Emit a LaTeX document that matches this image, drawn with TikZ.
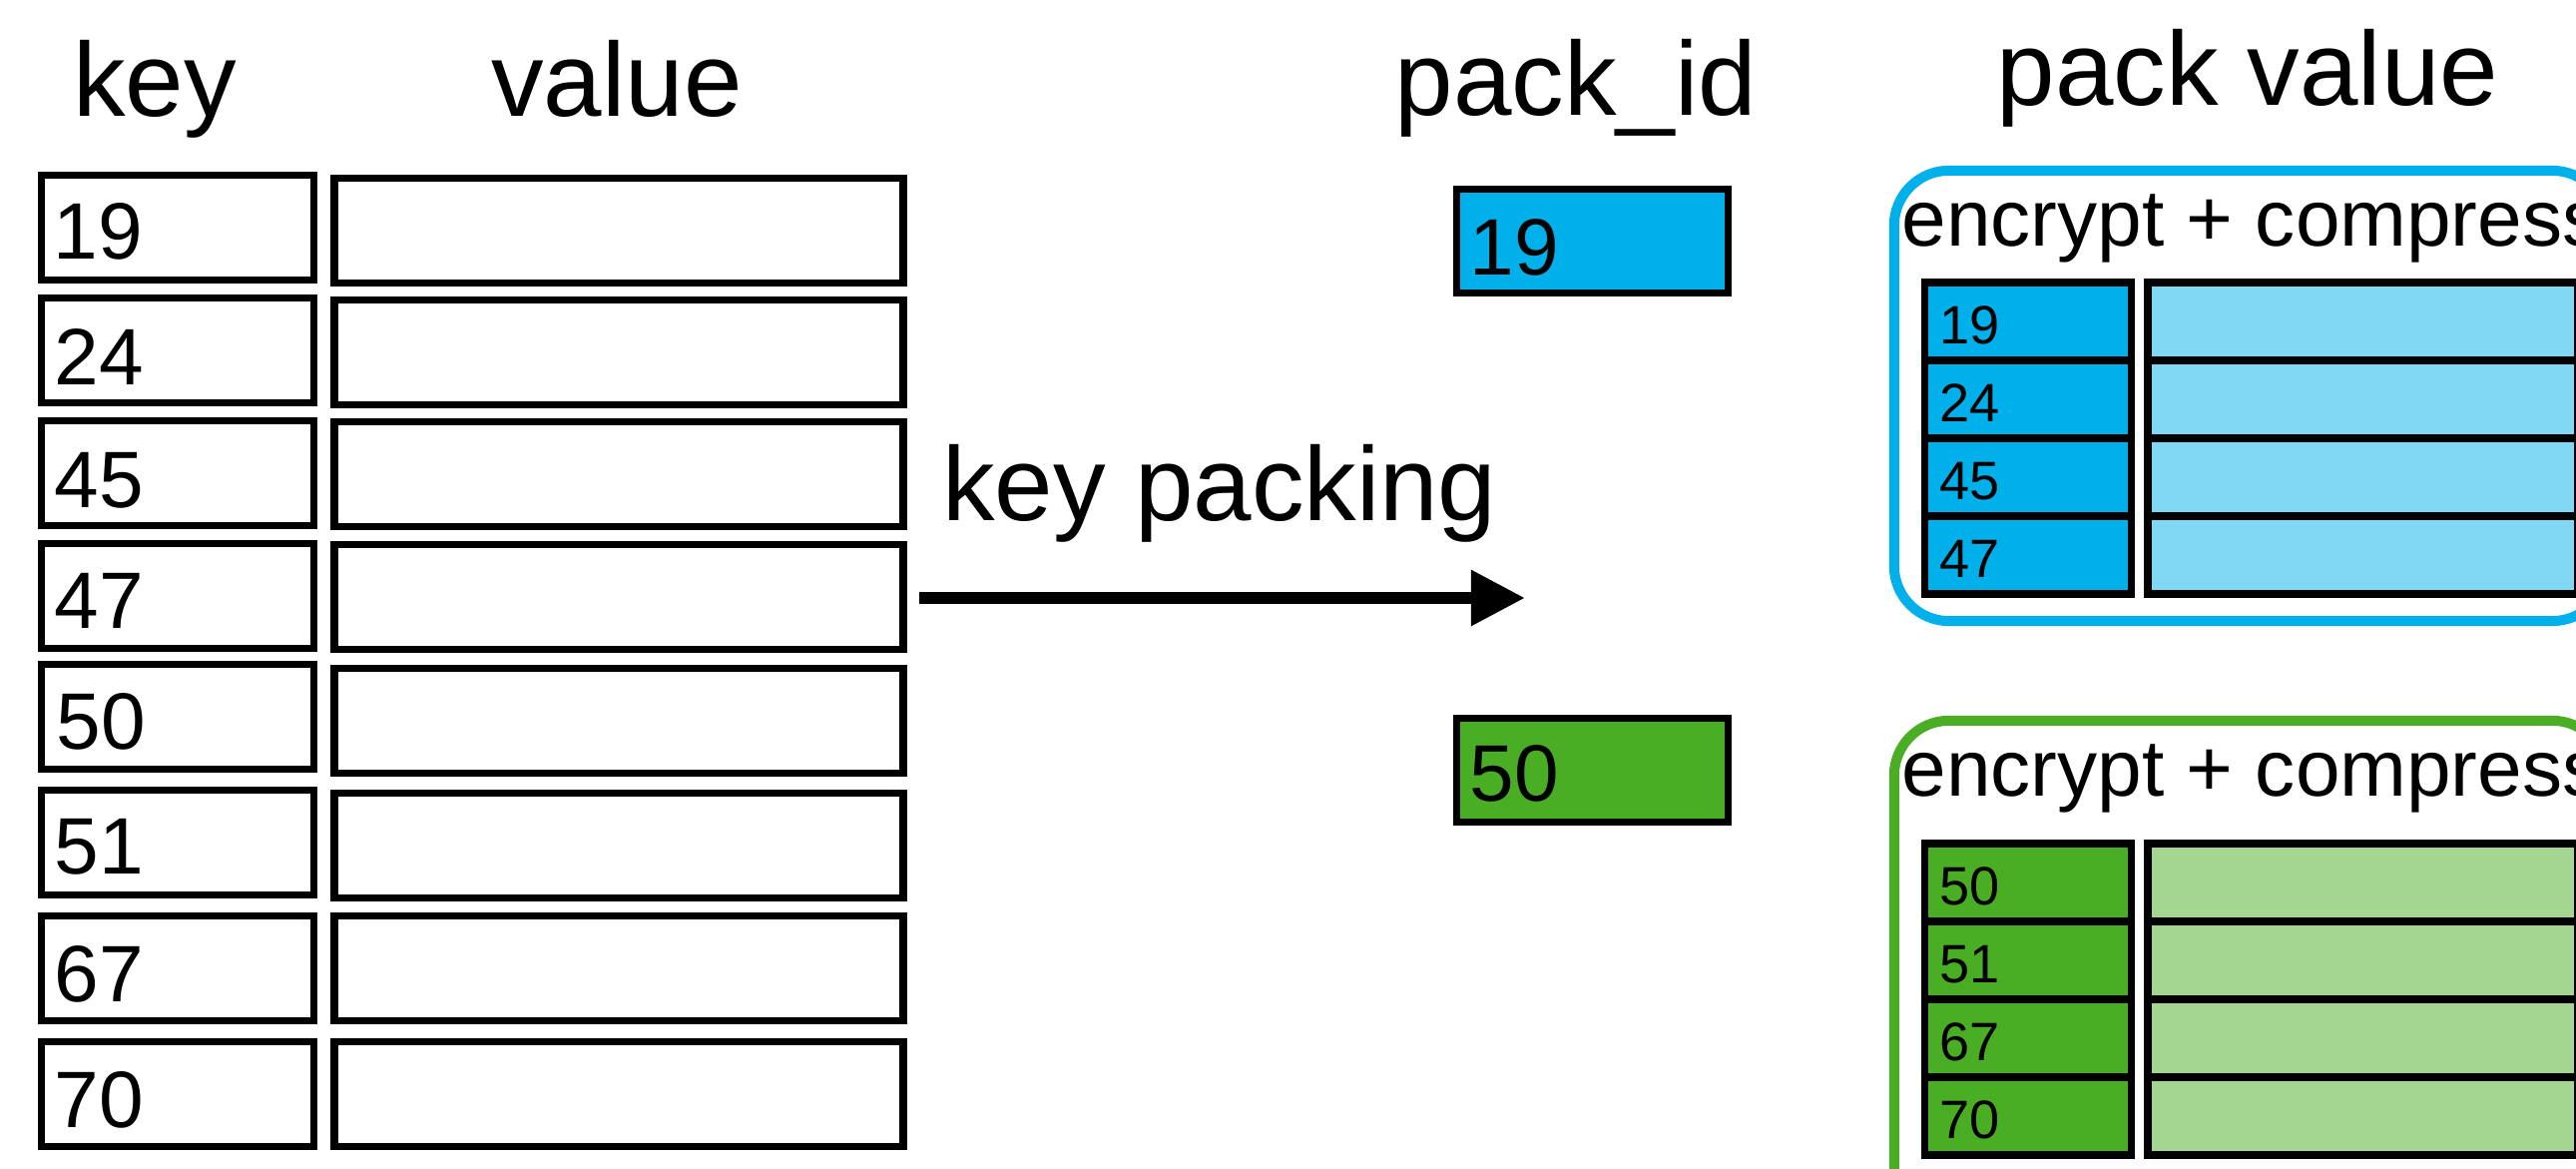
\documentclass[tikz,border=0pt]{standalone}
\usepackage{fontspec}
\setmainfont{Liberation Sans}
\usetikzlibrary{arrows.meta}
\definecolor{bluedark}{HTML}{00B0EA}
\definecolor{bluelight}{HTML}{80D8F4}
\definecolor{greendark}{HTML}{4AAE24}
\definecolor{greenlight}{HTML}{A4D691}
\begin{document}
\begin{tikzpicture}[x=0.01cm,y=-0.01cm,
  cellline/.style={draw=black, line width=2.13pt, inner sep=0pt, outer sep=0pt},
  keycell/.style={cellline, minimum width=2.725cm, minimum height=1.045cm},
  valcell/.style={cellline, minimum width=5.70cm, minimum height=1.045cm},
  idcell/.style={cellline, minimum width=2.715cm, minimum height=1.04cm},
  inkey/.style={cellline, minimum width=2.065cm, minimum height=0.78cm},
  inval/.style={cellline, minimum width=4.31cm, minimum height=0.78cm},
  frame/.style={line width=2.85pt, rounded corners=0.55cm, inner sep=0pt, outer sep=0pt, minimum width=7.14cm},
  header/.style={inner sep=0pt, anchor=base, font=\fontsize{29.9pt}{34pt}\selectfont},
  numtxt/.style={inner sep=0pt, anchor=base west, font=\fontsize{22.8pt}{26pt}\selectfont},
  smalltxt/.style={inner sep=0pt, anchor=base west, font=\fontsize{15.4pt}{18pt}\selectfont},
  enctxt/.style={inner sep=0pt, anchor=base west, font=\fontsize{22.8pt}{26pt}\selectfont},
  arrowline/.style={line width=3.4pt, -{Triangle[length=0.54cm,width=0.53cm]}}
]
\useasboundingbox (0,0) rectangle (2581,1171);
\clip (0,0) rectangle (2581,1171);

% headers
\node[header] (hkey) at (155,117) {key};
\node[header] (hval) at (618,117) {value};
\node[header] (hpid) at (1579,116) {pack\_id};
\node[header] (hpv) at (2252,106) {pack value};
\node[header] (hkp) at (1222,522) {key packing};

% left table
\node[keycell] (k1) at (178,228) {};  \node[valcell] (v1) at (620,231) {};
\node[keycell] (k2) at (178,351) {};  \node[valcell] (v2) at (620,353) {};
\node[keycell] (k3) at (178,474) {};  \node[valcell] (v3) at (620,475) {};
\node[keycell] (k4) at (178,597) {};  \node[valcell] (v4) at (620,598) {};
\node[keycell] (k5) at (178,718) {};  \node[valcell] (v5) at (620,722) {};
\node[keycell] (k6) at (178,844) {};  \node[valcell] (v6) at (620,847) {};
\node[keycell] (k7) at (178,970) {};  \node[valcell] (v7) at (620,970) {};
\node[keycell] (k8) at (178,1096) {}; \node[valcell] (v8) at (620,1096) {};
\node[numtxt] (n1) at (53,260) {19};
\node[numtxt] (n2) at (54,386) {24};
\node[numtxt] (n3) at (54,509) {45};
\node[numtxt] (n4) at (54,630) {47};
\node[numtxt] (n5) at (56,751) {50};
\node[numtxt] (n6) at (54,876) {51};
\node[numtxt] (n7) at (54,1004) {67};
\node[numtxt] (n8) at (54,1130) {70};

% arrow
\coordinate (as) at (921,599);
\coordinate (ae) at (1528,599);
\draw[arrowline] (as) -- (ae);

% pack ids
\node[idcell, fill=bluedark] (pid1) at (1595.5,241.5) {};
\node[idcell, fill=greendark] (pid2) at (1595.5,771.5) {};
\node[numtxt] (pt1) at (1472,276) {19};
\node[numtxt] (pt2) at (1472,803) {50};

% blue pack
\node[frame, draw=bluedark, minimum height=4.51cm] (fb) at (2255,396.5) {};
\node[enctxt] (eb) at (1905,247) {encrypt + compress};
\node[inkey, fill=bluedark] (bk1) at (2032,322) {};
\node[inkey, fill=bluedark] (bk2) at (2032,400) {};
\node[inkey, fill=bluedark] (bk3) at (2032,478) {};
\node[inkey, fill=bluedark] (bk4) at (2032,556) {};
\node[inval, fill=bluelight] (bv1) at (2367.5,322) {};
\node[inval, fill=bluelight] (bv2) at (2367.5,400) {};
\node[inval, fill=bluelight] (bv3) at (2367.5,478) {};
\node[inval, fill=bluelight] (bv4) at (2367.5,556) {};
\node[smalltxt] (bt1) at (1943,345) {19};
\node[smalltxt] (bt2) at (1943,423) {24};
\node[smalltxt] (bt3) at (1943,501) {45};
\node[smalltxt] (bt4) at (1943,579) {47};

% green pack
\node[frame, draw=greendark, minimum height=5.18cm] (fg) at (2255,981) {};
\node[enctxt] (eg) at (1905,798) {encrypt + compress};
\node[inkey, fill=greendark] (gk1) at (2032,884) {};
\node[inkey, fill=greendark] (gk2) at (2032,962) {};
\node[inkey, fill=greendark] (gk3) at (2032,1040) {};
\node[inkey, fill=greendark] (gk4) at (2032,1118) {};
\node[inval, fill=greenlight] (gv1) at (2367.5,884) {};
\node[inval, fill=greenlight] (gv2) at (2367.5,962) {};
\node[inval, fill=greenlight] (gv3) at (2367.5,1040) {};
\node[inval, fill=greenlight] (gv4) at (2367.5,1118) {};
\node[smalltxt] (gt1) at (1943,907) {50};
\node[smalltxt] (gt2) at (1943,985) {51};
\node[smalltxt] (gt3) at (1943,1063) {67};
\node[smalltxt] (gt4) at (1943,1141) {70};
\end{tikzpicture}
\end{document}
